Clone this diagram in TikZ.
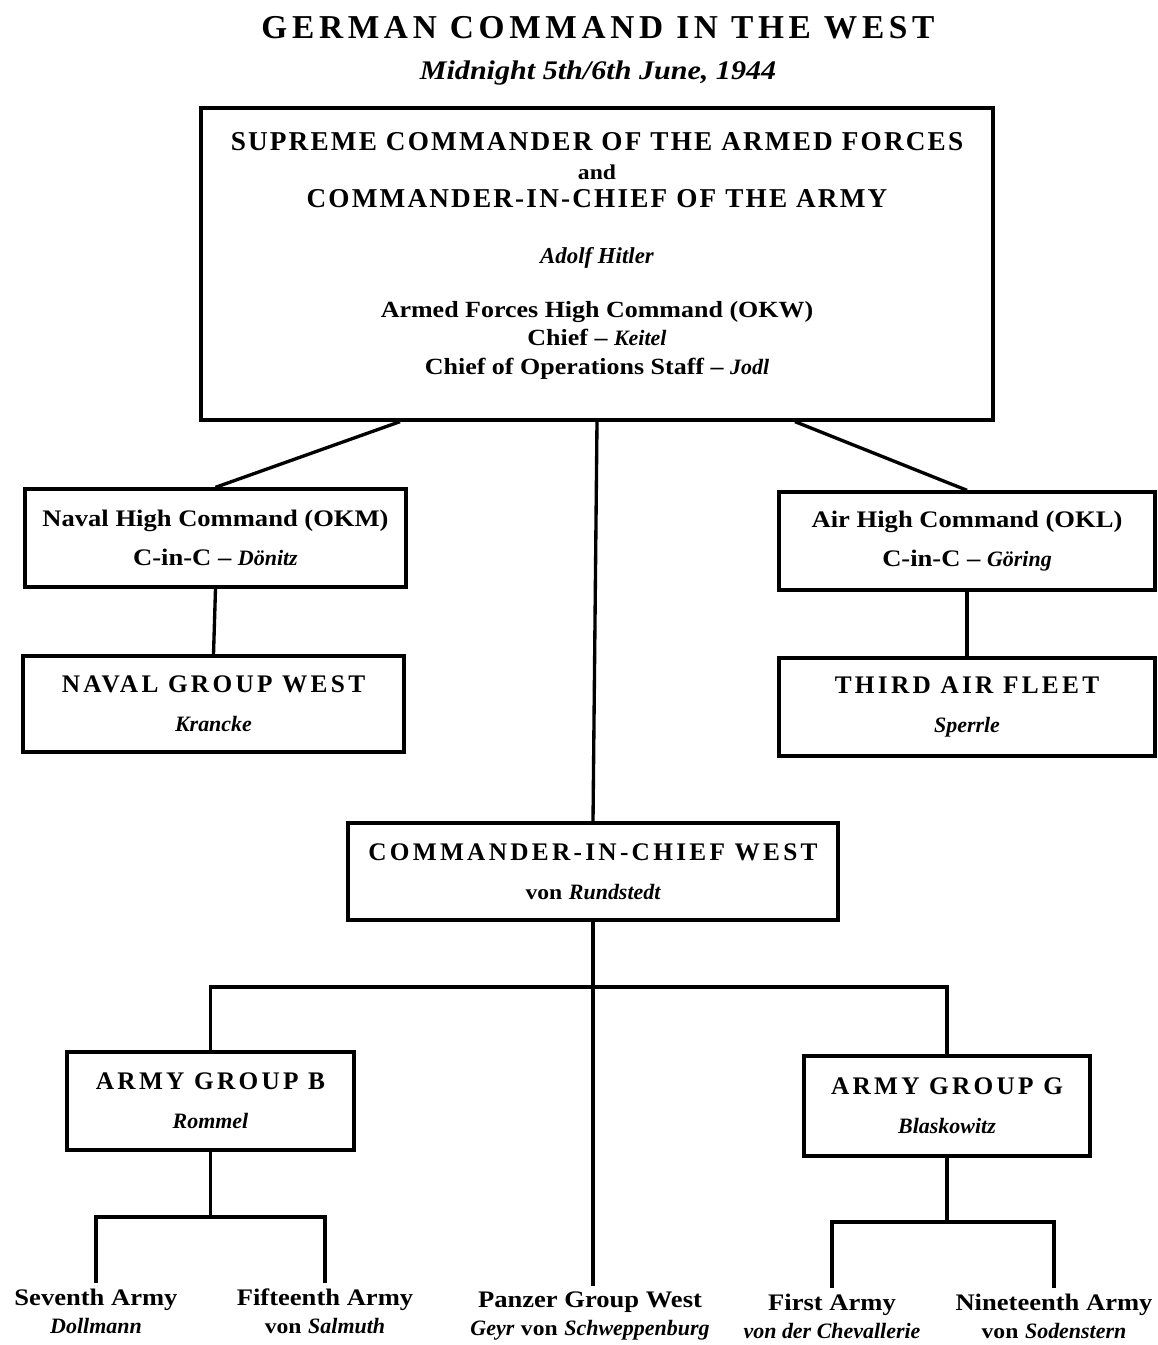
\documentclass[tikz,border=0pt]{standalone}
\usepackage{fontspec}
\setmainfont{Liberation Serif}[FakeStretch=1.12]
\newfontfamily\namefont{Liberation Serif}
\newfontfamily\titlecaps{Liberation Serif}[LetterSpace=14]
\newfontfamily\topcaps{Liberation Serif}[LetterSpace=8]
\newfontfamily\boxcaps{Liberation Serif}[LetterSpace=13]
\newcommand{\nm}[1]{{\namefont\bfseries\itshape\fontsize{12.5}{16}\selectfont #1}}
\usetikzlibrary{calc}

\begin{document}
\begin{tikzpicture}[x=0.02cm,y=-0.02cm,
  cmdbox/.style={draw,line width=1.9pt,inner sep=0pt,align=center,font=\bfseries\fontsize{13.5}{22}\selectfont},
  leaf/.style={inner xsep=0pt,inner ysep=3pt,align=center,anchor=north,font=\bfseries\fontsize{13.5}{16}\selectfont},
  link/.style={line width=1.9pt}]
\useasboundingbox (0,0) rectangle (1157,1345);

\node[font=\titlecaps\bfseries\fontsize{19}{22}\selectfont] (title) at (598,28) {GERMAN COMMAND IN THE WEST};
\node[font=\bfseries\itshape\fontsize{15.3}{20}\selectfont] (date) at (598,73) {Midnight 5th/6th June, 1944};

% top box
\node[cmdbox,minimum width=15.84cm,minimum height=6.24cm,font=\bfseries\fontsize{13.2}{16}\selectfont] (sup) at (597,264) {%
{\topcaps\fontsize{15.5}{16}\selectfont SUPREME COMMANDER OF THE ARMED FORCES}\\
{\fontsize{12}{16}\selectfont and}\\
{\topcaps\fontsize{15.5}{16}\selectfont COMMANDER-IN-CHIEF OF THE ARMY}\\[16pt]
{\namefont\bfseries\itshape\fontsize{13}{16}\selectfont Adolf Hitler}\\[15pt]
Armed Forces High Command (OKW)\\
Chief -- \nm{Keitel}\\
Chief of Operations Staff -- \nm{Jodl}\\[-4pt]\mbox{}};

% navy and air force
\node[cmdbox,minimum width=7.62cm,minimum height=1.96cm] (okm) at (215.5,538) {Naval High Command (OKM)\\C-in-C -- \nm{Dönitz}};
\node[cmdbox,minimum width=7.62cm,minimum height=1.92cm] (ngw) at (213.5,704) {{\boxcaps\fontsize{14.4}{22}\selectfont NAVAL GROUP WEST}\\\nm{Krancke}};
\node[cmdbox,minimum width=7.52cm,minimum height=1.96cm] (okl) at (967,541) {Air High Command (OKL)\\C-in-C -- \nm{Göring}};
\node[cmdbox,minimum width=7.52cm,minimum height=1.96cm] (laf) at (967,707) {{\boxcaps\fontsize{14.4}{22}\selectfont THIRD AIR FLEET}\\\nm{Sperrle}};

% army
\node[cmdbox,minimum width=9.8cm,minimum height=1.94cm] (obw) at (593,871.5) {{\boxcaps\fontsize{14.4}{22}\selectfont COMMANDER-IN-CHIEF WEST}\\{\fontsize{12}{16}\selectfont von} \nm{Rundstedt}};
\node[cmdbox,minimum width=5.74cm,minimum height=1.96cm] (hgb) at (210.5,1101) {{\boxcaps\fontsize{14.4}{22}\selectfont ARMY GROUP B}\\\nm{Rommel}};
\node[cmdbox,minimum width=5.72cm,minimum height=2cm] (hgg) at (947,1106) {{\boxcaps\fontsize{14.4}{22}\selectfont ARMY GROUP G}\\\nm{Blaskowitz}};

\node[leaf] (sev) at (96,1283) {Seventh Army\\\nm{Dollmann}};
\node[leaf] (fif) at (325,1283) {Fifteenth Army\\{\fontsize{12}{16}\selectfont von} \nm{Salmuth}};
\node[leaf] (pzw) at (590,1286) {Panzer Group West\\\nm{Geyr} {\fontsize{12}{16}\selectfont von} \nm{Schweppenburg}};
\node[leaf] (fst) at (832,1288) {First Army\\\nm{von der Chevallerie}};
\node[leaf] (nin) at (1054,1288) {Nineteenth Army\\{\fontsize{12}{16}\selectfont von} \nm{Sodenstern}};

\draw[link] ($(sup.south)+(-197,0)$) -- (okm.north);
\draw[link] ($(sup.south)+(198,0)$) -- (okl.north);
\draw[link] (sup.south) -- (obw.north);
\draw[link] (okm.south) -- (ngw.north);
\draw[link] (okl.south) -- (laf.north);

\draw[link] (obw.south) -- (obw.south |- pzw.north);
\coordinate (wfork) at (obw.south |- 0,987);
\draw[link] (hgb.north) |- (wfork) -| (hgg.north);

\coordinate (bfork) at (hgb.south |- 0,1217);
\draw[link] (hgb.south) -- (bfork);
\draw[link] (sev.north) |- (bfork) -| (fif.north);
\coordinate (gfork) at (hgg.south |- 0,1222);
\draw[link] (hgg.south) -- (gfork);
\draw[link] (fst.north) |- (gfork) -| (nin.north);
%\draw[red] (201,108) rectangle (993,420);
\end{tikzpicture}
\end{document}
